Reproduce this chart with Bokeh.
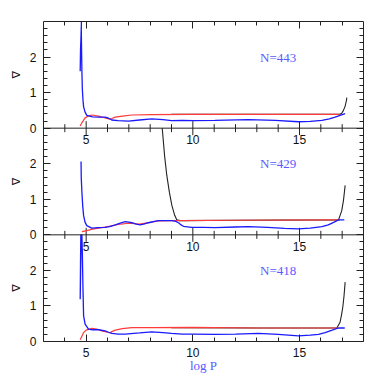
import math
from bokeh.plotting import figure
from bokeh.layouts import row
from bokeh.models import (LinearAxis, FixedTicker, Range1d, Span,
                          CustomLabelingPolicy)
from bokeh.core.properties import value
from bokeh.embed import file_html
from bokeh.resources import INLINE

# ---------------- data ----------------
x_ticks = [5, 10, 15]
x_tick_labels = ["5", "10", "15"]
x_minor = [4, 6, 7, 8, 9, 11, 12, 13, 14, 16, 17]
y_ticks = [0, 1, 2]
y_minor = [0.2, 0.4, 0.6, 0.8, 1.2, 1.4, 1.6, 1.8, 2.2, 2.4, 2.6, 2.8]
panel_labels = ["N=443", "N=429", "N=418"]
y_axis_label = "∇"
x_axis_label = "log P"
label_pos_x = 14.0
label_pos_y = 2.0

# panel 1 (N=443)
p1_blue_x = [4.78, 4.775, 4.735, 4.72, 4.74, 4.77, 4.785, 4.80, 4.82, 4.85, 4.88, 4.95, 5.03, 5.3, 5.6,
             5.89, 6.05, 6.2, 6.5, 6.98, 7.5, 8.08, 8.6, 9.0, 9.5, 10.0, 11.04, 12.6, 13.86, 14.95,
             15.5, 16.05, 16.4, 16.67, 16.9, 17.14]
p1_blue_y = [3.3, 2.85, 2.2, 1.6, 2.2, 2.85, 2.2, 1.6, 1.1, 0.8, 0.6, 0.45, 0.36, 0.32, 0.31,
             0.31, 0.28, 0.23, 0.21, 0.2, 0.23, 0.26, 0.24, 0.21, 0.22, 0.21, 0.22, 0.24, 0.22, 0.18,
             0.19, 0.22, 0.26, 0.31, 0.36, 0.41]
p1_red_x = [4.72, 4.8, 4.95, 5.1, 5.26, 5.58, 5.8, 6.05, 6.2, 6.36, 6.7, 7.14, 8.08, 9.9, 12.0, 16.9]
p1_red_y = [0.06, 0.15, 0.29, 0.34, 0.37, 0.34, 0.30, 0.26, 0.27, 0.31, 0.34, 0.37, 0.38, 0.39, 0.39, 0.39]
p1_black_x = [9.0, 12.0, 16.9, 16.98, 17.06, 17.14, 17.19, 17.22]
p1_black_y = [0.39, 0.39, 0.39, 0.42, 0.50, 0.62, 0.75, 0.86]

# panel 2 (N=429)
p2_blue_x = [4.76, 4.77, 4.80, 4.84, 4.88, 4.95, 5.03, 5.26, 5.58, 5.89, 6.1, 6.36, 6.6, 6.83, 7.0,
             7.14, 7.35, 7.53, 7.7, 7.92, 8.2, 8.39, 9.02, 9.2, 9.33, 9.45, 9.56, 9.95, 10.5, 11.04,
             12.0, 12.6, 13.5, 14.3, 14.95, 15.5, 16.05, 16.35, 16.6, 16.83, 17.1]
p2_blue_y = [2.06, 1.6, 1.2, 0.8, 0.54, 0.35, 0.26, 0.19, 0.20, 0.21, 0.23, 0.28, 0.33, 0.37, 0.36,
             0.34, 0.30, 0.28, 0.30, 0.34, 0.38, 0.40, 0.40, 0.38, 0.34, 0.28, 0.24, 0.21, 0.21, 0.20,
             0.22, 0.23, 0.21, 0.18, 0.17, 0.19, 0.23, 0.28, 0.35, 0.42, 0.42]
p2_red_x = [4.8, 5.03, 5.3, 5.58, 5.89, 6.2, 6.5, 7.0, 7.5, 8.0, 8.4, 9.0, 9.33, 12.0, 16.9]
p2_red_y = [0.09, 0.12, 0.16, 0.19, 0.22, 0.25, 0.29, 0.33, 0.30, 0.35, 0.39, 0.40, 0.40, 0.41, 0.42]
p2_black_x = [8.56, 8.58, 8.68, 8.78, 8.9, 9.02, 9.15, 9.25, 9.4, 12.0, 16.83, 16.98, 17.06, 17.14]
p2_black_y = [3.0, 2.9, 2.2, 1.67, 1.2, 0.82, 0.55, 0.42, 0.40, 0.41, 0.42, 0.68, 0.96, 1.39]

# panel 3 (N=418)
p3_blue_x = [4.75, 4.735, 4.72, 4.745, 4.77, 4.80, 4.82, 4.85, 4.88, 4.95, 5.11, 5.3, 5.58, 5.89,
             6.05, 6.2, 6.5, 6.83, 7.5, 8.08, 8.6, 9.0, 9.5, 10.0, 11.04, 12.0, 13.08, 14.0, 14.95,
             15.5, 15.89, 16.2, 16.5, 16.83, 17.12]
p3_blue_y = [3.0, 2.2, 1.19, 2.2, 3.0, 3.0, 2.5, 1.5, 0.72, 0.49, 0.35, 0.33, 0.33, 0.30,
             0.26, 0.23, 0.21, 0.21, 0.24, 0.27, 0.25, 0.23, 0.21, 0.21, 0.20, 0.21, 0.23, 0.20, 0.16,
             0.18, 0.20, 0.25, 0.31, 0.38, 0.38]
p3_red_x = [4.72, 4.8, 4.88, 5.0, 5.26, 5.5, 5.73, 6.0, 6.12, 6.36, 6.7, 7.14, 8.08, 10.0, 13.0, 16.83]
p3_red_y = [0.05, 0.15, 0.25, 0.32, 0.37, 0.35, 0.30, 0.26, 0.25, 0.32, 0.36, 0.39, 0.39, 0.40, 0.38, 0.38]
p3_black_x = [9.0, 13.0, 16.75, 16.9, 16.97, 17.03, 17.09, 17.14]
p3_black_y = [0.39, 0.38, 0.38, 0.54, 0.75, 0.97, 1.30, 1.67]

panels = [
    (p1_blue_x, p1_blue_y, p1_red_x, p1_red_y, p1_black_x, p1_black_y),
    (p2_blue_x, p2_blue_y, p2_red_x, p2_red_y, p2_black_x, p2_black_y),
    (p3_blue_x, p3_blue_y, p3_red_x, p3_red_y, p3_black_x, p3_black_y),
]

# ---------------- styling ----------------
AX_COLOR = "#222222"
TICK_FONT = "Liberation Sans"
TICK_SIZE = "12px"
SERIF = "Liberation Serif"
BLUE = "#1a1aff"
RED = "#ff3b3b"
BLACK = "#222222"
TEXT_BLUE = "#5a5aff"
N_PANELS = len(panels)
PANEL_SPAN = 3.0  # each panel shows 0..3
TOP_BORDER = 21
LABEL_STRIP = 26


def panel_ranges(fig):
    names = []
    for i in range(N_PANELS):
        name = "panel%d" % i
        below = N_PANELS - 1 - i
        fig.extra_y_ranges[name] = Range1d(-PANEL_SPAN * below, PANEL_SPAN * (i + 1))
        names.append(name)
    return names


# ---- narrow strip on the left holding the rotated y-axis titles ----
lab = figure(frame_width=LABEL_STRIP, frame_height=320, x_range=(0, LABEL_STRIP),
             y_range=(0, PANEL_SPAN * N_PANELS), x_axis_type=None, y_axis_type=None,
             output_backend="svg", toolbar_location=None, min_border=0,
             min_border_top=TOP_BORDER)
lab.outline_line_color = None
lab.grid.visible = False
lab_ranges = panel_ranges(lab)
for rn in lab_ranges:
    lab.text(x=[16], y=[PANEL_SPAN / 2], text=[y_axis_label], angle=math.pi / 2,
             text_align="center", text_baseline="middle",
             text_font=value("DejaVu Sans"), text_font_size="11px",
             text_color="#111111", y_range_name=rn)

# ---- main figure: three stacked panels, each with its own y range ----
p = figure(frame_width=320, frame_height=320, x_range=(3, 18),
           y_range=(0, PANEL_SPAN * N_PANELS),
           x_axis_type=None, y_axis_type=None, output_backend="svg",
           toolbar_location=None, min_border=0,
           min_border_left=42 - LABEL_STRIP, min_border_right=6,
           min_border_top=TOP_BORDER)
p.outline_line_color = None
p.grid.visible = False
range_names = panel_ranges(p)

# combined left/right tickers: labels 0,1,2 repeat in every panel
all_major, all_minor, overrides = [], [], {}
for k in range(N_PANELS):
    for t in y_ticks:
        all_major.append(t + PANEL_SPAN * k)
        overrides[t + PANEL_SPAN * k] = str(t)
    for m in y_minor:
        all_minor.append(m + PANEL_SPAN * k)

no_labels = CustomLabelingPolicy(code="""
const all = [...indices]
for (const i of all) indices.unset(i)
return indices
""")


def style_axis(ax, show_labels):
    ax.axis_line_color = AX_COLOR
    ax.axis_line_width = 1
    ax.major_tick_line_color = AX_COLOR
    ax.minor_tick_line_color = AX_COLOR
    ax.major_tick_in = 7
    ax.major_tick_out = 0
    ax.minor_tick_in = 4
    ax.minor_tick_out = 0
    ax.major_label_text_font = TICK_FONT
    ax.major_label_text_font_size = TICK_SIZE
    ax.major_label_text_color = "#111111"
    if show_labels:
        ax.major_label_standoff = 7
    else:
        ax.major_label_standoff = 0
        ax.major_label_policy = no_labels


left = LinearAxis(ticker=FixedTicker(ticks=all_major, minor_ticks=all_minor),
                  major_label_overrides=overrides)
style_axis(left, True)
p.add_layout(left, "left")

right = LinearAxis(ticker=FixedTicker(ticks=all_major, minor_ticks=all_minor))
style_axis(right, False)
p.add_layout(right, "right")

top = LinearAxis(ticker=FixedTicker(ticks=x_ticks, minor_ticks=x_minor))
style_axis(top, False)
p.add_layout(top, "above")

bottom = LinearAxis(ticker=FixedTicker(ticks=x_ticks, minor_ticks=x_minor),
                    axis_label=x_axis_label)
style_axis(bottom, True)
bottom.major_label_standoff = 6
bottom.axis_label_text_font = SERIF
bottom.axis_label_text_font_style = "normal"
bottom.axis_label_text_font_size = "13px"
bottom.axis_label_text_color = TEXT_BLUE
bottom.axis_label_standoff = -2
p.add_layout(bottom, "below")

for i, (bx, by, rx, ry, kx, ky) in enumerate(panels):
    rn = range_names[i]
    last = i == N_PANELS - 1

    if not last:
        # boundary line with inward ticks on both sides, and x tick labels
        p.add_layout(Span(location=0, dimension="width", y_range_name=rn,
                          line_color=AX_COLOR, line_width=1))
        p.scatter(x=x_ticks, y=[0] * len(x_ticks), marker="dash", angle=math.pi / 2,
                  size=14, line_color=AX_COLOR, line_width=1, y_range_name=rn)
        p.scatter(x=x_minor, y=[0] * len(x_minor), marker="dash", angle=math.pi / 2,
                  size=8, line_color=AX_COLOR, line_width=1, y_range_name=rn)
        p.text(x=x_ticks, y=[0] * len(x_ticks), text=x_tick_labels,
               text_align="center", text_baseline="top", y_offset=7,
               text_font=value(TICK_FONT), text_font_size=TICK_SIZE,
               text_color="#111111", y_range_name=rn)

    p.line(kx, ky, line_color=BLACK, line_width=1.1, y_range_name=rn)
    p.line(rx, ry, line_color=RED, line_width=1.2, y_range_name=rn)
    p.line(bx, by, line_color=BLUE, line_width=1.3, y_range_name=rn)

    p.text(x=[label_pos_x], y=[label_pos_y], text=[panel_labels[i]],
           text_align="center", text_baseline="middle",
           text_font=value(SERIF), text_font_size="13px", text_color=TEXT_BLUE,
           y_range_name=rn)

layout = row(lab, p, spacing=0)
open("out.html", "w").write(file_html(layout, INLINE))
